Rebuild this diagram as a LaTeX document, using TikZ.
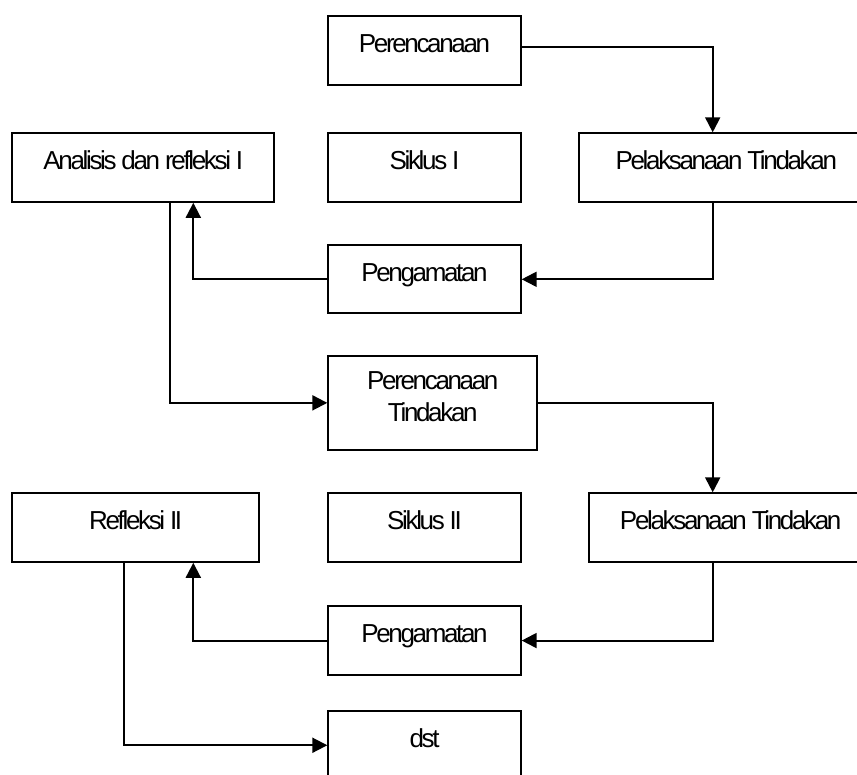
\documentclass[tikz,border=0pt]{standalone}
\usepackage{fontspec}
\newfontfamily\boxfont[LetterSpace=-9]{Liberation Sans}
\usetikzlibrary{arrows.meta}

\begin{document}
\begin{tikzpicture}[x=1pt, y=-1pt,
  box/.style={draw, line width=2pt, rectangle, anchor=north west, inner sep=0pt, align=center,
    text height=36pt, text depth=32.5pt, font=\boxfont\fontsize{26}{31.6}\selectfont},
  flow/.style={line width=2pt, -{Triangle[length=15pt, width=15pt]}}]
\useasboundingbox (0,0) rectangle (857,774);
\clip (0,0) rectangle (857,774);
\node[box, minimum width=192.4pt, text depth=32.7pt] (plan1) at (327.3,15) {Perencanaan};
\node[box, minimum width=262pt] (anal1) at (11.3,132.3) {Analisis dan refleksi I};
\node[box, minimum width=192.4pt] (cyc1) at (327.3,132.3) {Siklus I};
\node[box, minimum width=294pt] (act1) at (578.3,132.3) {Pelaksanaan Tindakan};
\node[box, minimum width=192.4pt, text depth=32pt] (obs1) at (327.3,244.3) {Pengamatan};
\node[box, minimum width=209pt, text height=65.6pt, text depth=28.7pt] (plan2) at (327.3,354.7) {Perencanaan\\Tindakan};
\node[box, minimum width=246.7pt] (ref2) at (11.3,492.3) {Refleksi II};
\node[box, minimum width=192.4pt] (cyc2) at (327.3,492.3) {Siklus II};
\node[box, minimum width=284pt] (act2) at (587.7,492.3) {Pelaksanaan Tindakan};
\node[box, minimum width=192.4pt] (obs2) at (327.3,605.3) {Pengamatan};
\node[box, minimum width=192.4pt] (next) at (327.3,710) {dst};
\coordinate (colR) at (712.7,0);
\coordinate (colA) at (193.3,0);
\coordinate (colB) at (170,0);
\coordinate (colC) at (124,0);
\draw[flow] ([yshift=3.6pt]plan1.east) -| (colR |- act1.north);
\draw[flow] (colR |- act1.south) |- (obs1.east);
\draw[flow] (obs1.west) -| (colA |- anal1.south);
\draw[flow] (colB |- anal1.south) |- (plan2.west);
\draw[flow] (plan2.east) -| (colR |- act2.north);
\draw[flow] (colR |- act2.south) |- (obs2.east);
\draw[flow] (obs2.west) -| (colA |- ref2.south);
\draw[flow] (colC |- ref2.south) |- (next.west);
\end{tikzpicture}
\end{document}
